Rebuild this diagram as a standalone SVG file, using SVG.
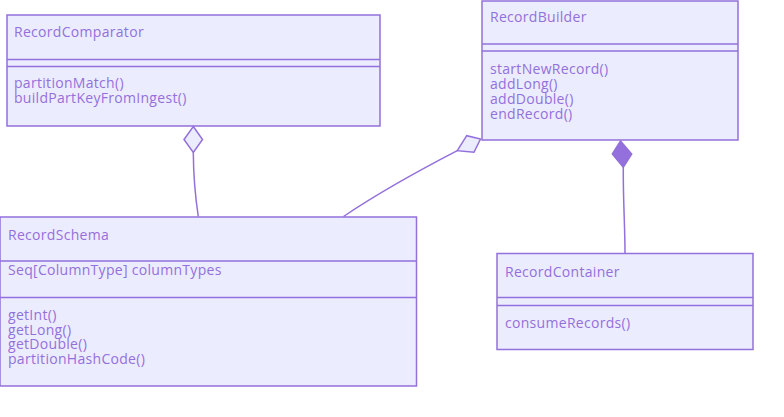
<svg xmlns="http://www.w3.org/2000/svg" width="784" height="417" viewBox="0 0 784 417">
<style>
.box{fill:#ECECFF;stroke:#9370DB;stroke-width:1.5}
.div{stroke:#9370DB;stroke-width:1.5}
.t{font-family:"Open Sans","Liberation Sans",sans-serif;font-size:14px;letter-spacing:0.3px;fill:#9370DB}
.rel{fill:none;stroke:#9370DB;stroke-width:1.5}
</style>
<rect width="784" height="417" fill="#ffffff"/>
<g id="RecordComparator">
<rect class="box" x="7" y="15" width="373" height="111"/>
<line class="div" x1="7" y1="59.5" x2="380" y2="59.5"/>
<line class="div" x1="7" y1="66.5" x2="380" y2="66.5"/>
<text class="t" x="14" y="37">RecordComparator</text>
<text class="t" x="14" y="88">partitionMatch()<tspan x="14" dy="14.5">buildPartKeyFromIngest()</tspan></text>
</g>
<g id="RecordBuilder">
<rect class="box" x="482" y="1" width="256" height="139"/>
<line class="div" x1="482" y1="44" x2="738" y2="44"/>
<line class="div" x1="482" y1="51" x2="738" y2="51"/>
<text class="t" x="490" y="22">RecordBuilder</text>
<text class="t" x="490" y="74">startNewRecord()<tspan x="490" dy="15">addLong()</tspan><tspan x="490" dy="15">addDouble()</tspan><tspan x="490" dy="15">endRecord()</tspan></text>
</g>
<g id="RecordSchema">
<rect class="box" x="0" y="217" width="416.5" height="169"/>
<line class="div" x1="0" y1="261" x2="416.5" y2="261"/>
<line class="div" x1="0" y1="297.5" x2="416.5" y2="297.5"/>
<text class="t" x="8" y="240">RecordSchema</text>
<text class="t" x="8" y="275">Seq[ColumnType] columnTypes</text>
<text class="t" x="8" y="320">getInt()<tspan x="8" dy="14.5">getLong()</tspan><tspan x="8" dy="14.5">getDouble()</tspan><tspan x="8" dy="14.5">partitionHashCode()</tspan></text>
</g>
<g id="RecordContainer">
<rect class="box" x="497" y="253.5" width="256" height="96"/>
<line class="div" x1="497" y1="297.5" x2="753" y2="297.5"/>
<line class="div" x1="497" y1="305.5" x2="753" y2="305.5"/>
<text class="t" x="505" y="277">RecordContainer</text>
<text class="t" x="505" y="328">consumeRecords()</text>
</g>
<g id="connectors">
<path class="rel" d="M193.3,152.5 C193.5,180 195,195 198.3,216.5"/>
<polygon points="193.3,126.5 202.5,139.5 193.3,152.5 184,139.5" fill="#ECECFF" stroke="#9370DB" stroke-width="1.5"/>
<path class="rel" d="M457.3,150.7 C420,170 380,192 343.5,216.5"/>
<polygon points="457.3,150.7 466.7,135.7 480.5,139 474,152.3" fill="#ECECFF" stroke="#9370DB" stroke-width="1.5"/>
<path class="rel" d="M623.3,167 C623,200 625,225 625,253.5"/>
<polygon points="620.5,141 631.7,154 623.3,167.3 612.3,154" fill="#9370DB" stroke="#9370DB" stroke-width="1.5"/>
</g>
</svg>
